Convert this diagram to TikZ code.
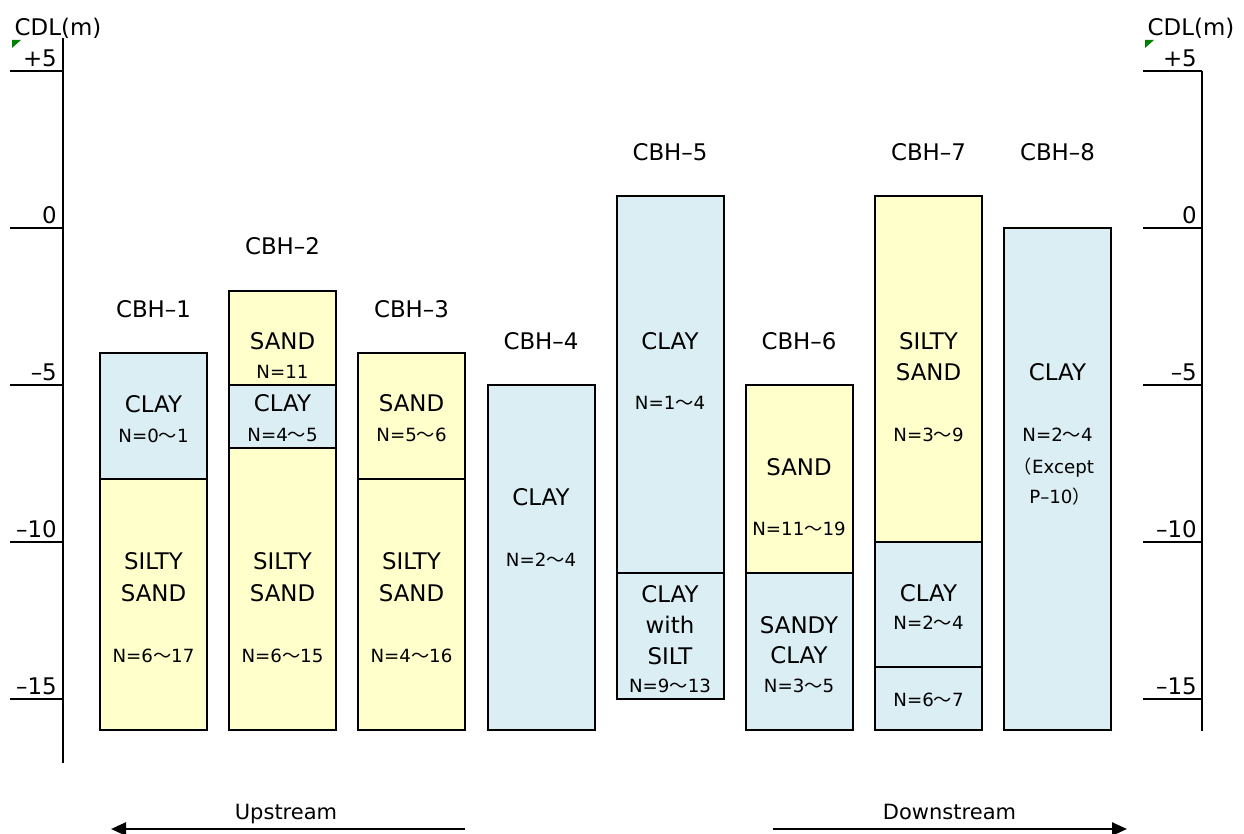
\documentclass[tikz,border=0pt]{standalone}
\usepackage{fontspec}
\setmainfont{DejaVu Sans}
\newfontfamily\cjk{Noto Sans CJK JP}
\newcommand{\wv}{{\cjk ～}}
\newcommand{\lpar}{{\cjk （}}
\newcommand{\rpar}{{\cjk ）}}
\usetikzlibrary{arrows.meta}
\definecolor{sandc}{HTML}{FFFFCC}
\definecolor{clayc}{HTML}{DAEEF3}
\definecolor{markc}{HTML}{008000}
\begin{document}
\begin{tikzpicture}[x=1pt,y=-1pt,
  lay/.style={draw=black, line width=2pt},
  sandl/.style={lay, fill=sandc},
  clayl/.style={lay, fill=clayc},
  big/.style={font=\fontsize{22.9}{26}\selectfont, inner sep=0pt, text height=16.7pt, text depth=0pt},
  small/.style={font=\fontsize{18.2}{22}\selectfont, inner sep=0pt, text height=13.3pt, text depth=0pt},
  dirlab/.style={font=\fontsize{21}{24}\selectfont, inner sep=0pt, text height=15.3pt, text depth=0pt},
  axisline/.style={line width=2pt},
  ticklab/.style={big, anchor=south east},
  flow/.style={line width=2.5pt, -{Triangle[length=15pt,width=13pt]}},
  markr/.style={fill=markc, draw=none}]
\useasboundingbox (0,0) rectangle (1244,834);

% ---------- axes ----------
\coordinate (la1) at (63,38);
\coordinate (la2) at (63,763);
\coordinate (ra1) at (1202,70.7);
\coordinate (ra2) at (1202,731);
\draw[axisline] (la1) -- (la2);
\draw[axisline] (ra1) -- (ra2);
\foreach \yy/\lab [count=\k] in {70.7/+5, 227.7/0, 384.7/–5, 541.7/–10, 698.7/–15}{
  \coordinate (lt\k a) at (10,\yy);
  \coordinate (lt\k b) at (63,\yy);
  \coordinate (rt\k a) at (1143,\yy);
  \coordinate (rt\k b) at (1202,\yy);
  \draw[axisline] (lt\k a) -- (lt\k b);
  \draw[axisline] (rt\k a) -- (rt\k b);
  \node[ticklab] (ltl\k) at (57,\yy-4) {\lab};
  \node[ticklab] (rtl\k) at (1197,\yy-4) {\lab};
}
\node[big] (cdlL) at (58,27) {CDL(m)};
\node[big] (cdlR) at (1191,27) {CDL(m)};
\fill[markr] (12,40) -- (21,40) -- (12,48) -- cycle;
\fill[markr] (1145,40) -- (1154,40) -- (1145,48) -- cycle;

% ---------- boreholes ----------
% CBH-1
\draw[clayl] (100,353.3) rectangle (207,478.9);
\draw[sandl] (100,478.9) rectangle (207,730.1);
\node[big] (h1) at (153.5,309) {CBH–1};
\node[big] (h1a) at (153.5,404) {CLAY};
\node[small] (h1b) at (153.5,436) {N=0\wv1};
\node[big] (h1c) at (153.5,561) {SILTY};
\node[big] (h1d) at (153.5,593) {SAND};
\node[small] (h1e) at (153.5,656) {N=6\wv17};
% CBH-2
\draw[sandl] (229,290.5) rectangle (336,384.7);
\draw[clayl] (229,384.7) rectangle (336,447.5);
\draw[sandl] (229,447.5) rectangle (336,730.1);
\node[big] (h2) at (282.5,246) {CBH–2};
\node[big] (h2a) at (282.5,341.5) {SAND};
\node[small] (h2b) at (282.5,372) {N=11};
\node[big] (h2c) at (282.5,403.5) {CLAY};
\node[small] (h2d) at (282.5,435) {N=4\wv5};
\node[big] (h2e) at (282.5,561) {SILTY};
\node[big] (h2f) at (282.5,593) {SAND};
\node[small] (h2g) at (282.5,656) {N=6\wv15};
% CBH-3
\draw[sandl] (358,353.3) rectangle (465,478.9);
\draw[sandl] (358,478.9) rectangle (465,730.1);
\node[big] (h3) at (411.5,309) {CBH–3};
\node[big] (h3a) at (411.5,403.5) {SAND};
\node[small] (h3b) at (411.5,435) {N=5\wv6};
\node[big] (h3c) at (411.5,561) {SILTY};
\node[big] (h3d) at (411.5,593) {SAND};
\node[small] (h3e) at (411.5,656) {N=4\wv16};
% CBH-4
\draw[clayl] (487.5,384.7) rectangle (594.5,730.1);
\node[big] (h4) at (541,341) {CBH–4};
\node[big] (h4a) at (541,497) {CLAY};
\node[small] (h4b) at (541,560) {N=2\wv4};
% CBH-5
\draw[clayl] (616.5,196.3) rectangle (723.5,573.1);
\draw[clayl] (616.5,573.1) rectangle (723.5,698.7);
\node[big] (h5) at (670,152) {CBH–5};
\node[big] (h5a) at (670,341) {CLAY};
\node[small] (h5b) at (670,403) {N=1\wv4};
\node[big] (h5c) at (670,594) {CLAY};
\node[big] (h5d) at (670,625) {with};
\node[big] (h5e) at (670,656) {SILT};
\node[small] (h5f) at (670,686) {N=9\wv13};
% CBH-6
\draw[sandl] (745.5,384.7) rectangle (852.5,573.1);
\draw[clayl] (745.5,573.1) rectangle (852.5,730.1);
\node[big] (h6) at (799,341) {CBH–6};
\node[big] (h6a) at (799,466.7) {SAND};
\node[small] (h6b) at (799,529.3) {N=11\wv19};
\node[big] (h6c) at (799,625) {SANDY};
\node[big] (h6d) at (799,655) {CLAY};
\node[small] (h6e) at (799,686) {N=3\wv5};
% CBH-7
\draw[sandl] (875,196.3) rectangle (982,541.7);
\draw[clayl] (875,541.7) rectangle (982,667.3);
\draw[clayl] (875,667.3) rectangle (982,730.1);
\node[big] (h7) at (928.5,152) {CBH–7};
\node[big] (h7a) at (928.5,341) {SILTY};
\node[big] (h7b) at (928.5,372) {SAND};
\node[small] (h7c) at (928.5,435) {N=3\wv9};
\node[big] (h7d) at (928.5,592.7) {CLAY};
\node[small] (h7e) at (928.5,623.3) {N=2\wv4};
\node[small] (h7f) at (928.5,700) {N=6\wv7};
% CBH-8
\draw[clayl] (1004,227.7) rectangle (1111,730.1);
\node[big] (h8) at (1057.5,152) {CBH–8};
\node[big] (h8a) at (1057.5,372) {CLAY};
\node[small] (h8b) at (1057.5,435) {N=2\wv4};
\node[small] (h8c) at (1054,466.7) {\lpar Except};
\node[small] (h8d) at (1060,496.7) {P–10\rpar};

% ---------- flow direction ----------
\coordinate (upT) at (465,829);
\coordinate (upH) at (111,829);
\coordinate (dnT) at (773,829);
\coordinate (dnH) at (1127,829);
\draw[flow] (upT) -- (upH);
\draw[flow] (dnT) -- (dnH);
\node[dirlab] (up) at (286,812) {Upstream};
\node[dirlab] (dn) at (949.5,812) {Downstream};
\end{tikzpicture}
\end{document}
